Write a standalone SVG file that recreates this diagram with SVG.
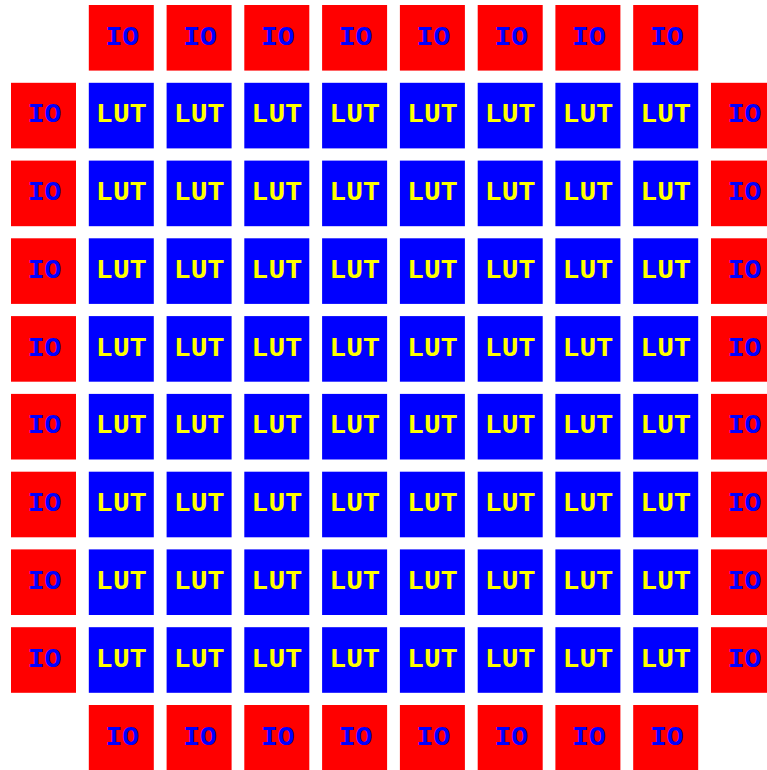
<svg xmlns="http://www.w3.org/2000/svg" width="767" height="770" viewBox="0 0 767 770">
<style>
.io rect{fill:#ff0000}
.lut rect{fill:#0000ff}
rect{width:65px;height:65.6px}
text{font-family:"Courier New",Courier,"Nimbus Mono PS","FreeMono","Liberation Mono",monospace;font-weight:bold;font-size:28px;text-anchor:middle}
.io text{fill:#0000ff}
.lut text{fill:#ffff00}
</style>
<rect x="0" y="0" width="767" height="770" fill="#ffffff" style="width:767px;height:770px"/>
<g id="io-top">
<g id="io_t1" class="io" transform="translate(88.8,5)"><rect/><text x="33.5" y="39.5">IO</text></g>
<g id="io_t2" class="io" transform="translate(166.6,5)"><rect/><text x="33.5" y="39.5">IO</text></g>
<g id="io_t3" class="io" transform="translate(244.3,5)"><rect/><text x="33.5" y="39.5">IO</text></g>
<g id="io_t4" class="io" transform="translate(322.1,5)"><rect/><text x="33.5" y="39.5">IO</text></g>
<g id="io_t5" class="io" transform="translate(399.9,5)"><rect/><text x="33.5" y="39.5">IO</text></g>
<g id="io_t6" class="io" transform="translate(477.7,5)"><rect/><text x="33.5" y="39.5">IO</text></g>
<g id="io_t7" class="io" transform="translate(555.4,5)"><rect/><text x="33.5" y="39.5">IO</text></g>
<g id="io_t8" class="io" transform="translate(633.2,5)"><rect/><text x="33.5" y="39.5">IO</text></g>
</g>
<g id="io-bottom">
<g id="io_b1" class="io" transform="translate(88.8,705)"><rect/><text x="33.5" y="39.5">IO</text></g>
<g id="io_b2" class="io" transform="translate(166.6,705)"><rect/><text x="33.5" y="39.5">IO</text></g>
<g id="io_b3" class="io" transform="translate(244.3,705)"><rect/><text x="33.5" y="39.5">IO</text></g>
<g id="io_b4" class="io" transform="translate(322.1,705)"><rect/><text x="33.5" y="39.5">IO</text></g>
<g id="io_b5" class="io" transform="translate(399.9,705)"><rect/><text x="33.5" y="39.5">IO</text></g>
<g id="io_b6" class="io" transform="translate(477.7,705)"><rect/><text x="33.5" y="39.5">IO</text></g>
<g id="io_b7" class="io" transform="translate(555.4,705)"><rect/><text x="33.5" y="39.5">IO</text></g>
<g id="io_b8" class="io" transform="translate(633.2,705)"><rect/><text x="33.5" y="39.5">IO</text></g>
</g>
<g id="io-left">
<g id="io_l1" class="io" transform="translate(11,82.8)"><rect/><text x="33.5" y="39.5">IO</text></g>
<g id="io_l2" class="io" transform="translate(11,160.6)"><rect/><text x="33.5" y="39.5">IO</text></g>
<g id="io_l3" class="io" transform="translate(11,238.3)"><rect/><text x="33.5" y="39.5">IO</text></g>
<g id="io_l4" class="io" transform="translate(11,316.1)"><rect/><text x="33.5" y="39.5">IO</text></g>
<g id="io_l5" class="io" transform="translate(11,393.9)"><rect/><text x="33.5" y="39.5">IO</text></g>
<g id="io_l6" class="io" transform="translate(11,471.7)"><rect/><text x="33.5" y="39.5">IO</text></g>
<g id="io_l7" class="io" transform="translate(11,549.4)"><rect/><text x="33.5" y="39.5">IO</text></g>
<g id="io_l8" class="io" transform="translate(11,627.2)"><rect/><text x="33.5" y="39.5">IO</text></g>
</g>
<g id="io-right">
<g id="io_r1" class="io" transform="translate(711,82.8)"><rect/><text x="33.5" y="39.5">IO</text></g>
<g id="io_r2" class="io" transform="translate(711,160.6)"><rect/><text x="33.5" y="39.5">IO</text></g>
<g id="io_r3" class="io" transform="translate(711,238.3)"><rect/><text x="33.5" y="39.5">IO</text></g>
<g id="io_r4" class="io" transform="translate(711,316.1)"><rect/><text x="33.5" y="39.5">IO</text></g>
<g id="io_r5" class="io" transform="translate(711,393.9)"><rect/><text x="33.5" y="39.5">IO</text></g>
<g id="io_r6" class="io" transform="translate(711,471.7)"><rect/><text x="33.5" y="39.5">IO</text></g>
<g id="io_r7" class="io" transform="translate(711,549.4)"><rect/><text x="33.5" y="39.5">IO</text></g>
<g id="io_r8" class="io" transform="translate(711,627.2)"><rect/><text x="33.5" y="39.5">IO</text></g>
</g>
<g id="luts">
<g id="lut_1_1" class="lut" transform="translate(88.8,82.8)"><rect/><text x="32.5" y="39.5">LUT</text></g>
<g id="lut_1_2" class="lut" transform="translate(166.6,82.8)"><rect/><text x="32.5" y="39.5">LUT</text></g>
<g id="lut_1_3" class="lut" transform="translate(244.3,82.8)"><rect/><text x="32.5" y="39.5">LUT</text></g>
<g id="lut_1_4" class="lut" transform="translate(322.1,82.8)"><rect/><text x="32.5" y="39.5">LUT</text></g>
<g id="lut_1_5" class="lut" transform="translate(399.9,82.8)"><rect/><text x="32.5" y="39.5">LUT</text></g>
<g id="lut_1_6" class="lut" transform="translate(477.7,82.8)"><rect/><text x="32.5" y="39.5">LUT</text></g>
<g id="lut_1_7" class="lut" transform="translate(555.4,82.8)"><rect/><text x="32.5" y="39.5">LUT</text></g>
<g id="lut_1_8" class="lut" transform="translate(633.2,82.8)"><rect/><text x="32.5" y="39.5">LUT</text></g>
<g id="lut_2_1" class="lut" transform="translate(88.8,160.6)"><rect/><text x="32.5" y="39.5">LUT</text></g>
<g id="lut_2_2" class="lut" transform="translate(166.6,160.6)"><rect/><text x="32.5" y="39.5">LUT</text></g>
<g id="lut_2_3" class="lut" transform="translate(244.3,160.6)"><rect/><text x="32.5" y="39.5">LUT</text></g>
<g id="lut_2_4" class="lut" transform="translate(322.1,160.6)"><rect/><text x="32.5" y="39.5">LUT</text></g>
<g id="lut_2_5" class="lut" transform="translate(399.9,160.6)"><rect/><text x="32.5" y="39.5">LUT</text></g>
<g id="lut_2_6" class="lut" transform="translate(477.7,160.6)"><rect/><text x="32.5" y="39.5">LUT</text></g>
<g id="lut_2_7" class="lut" transform="translate(555.4,160.6)"><rect/><text x="32.5" y="39.5">LUT</text></g>
<g id="lut_2_8" class="lut" transform="translate(633.2,160.6)"><rect/><text x="32.5" y="39.5">LUT</text></g>
<g id="lut_3_1" class="lut" transform="translate(88.8,238.3)"><rect/><text x="32.5" y="39.5">LUT</text></g>
<g id="lut_3_2" class="lut" transform="translate(166.6,238.3)"><rect/><text x="32.5" y="39.5">LUT</text></g>
<g id="lut_3_3" class="lut" transform="translate(244.3,238.3)"><rect/><text x="32.5" y="39.5">LUT</text></g>
<g id="lut_3_4" class="lut" transform="translate(322.1,238.3)"><rect/><text x="32.5" y="39.5">LUT</text></g>
<g id="lut_3_5" class="lut" transform="translate(399.9,238.3)"><rect/><text x="32.5" y="39.5">LUT</text></g>
<g id="lut_3_6" class="lut" transform="translate(477.7,238.3)"><rect/><text x="32.5" y="39.5">LUT</text></g>
<g id="lut_3_7" class="lut" transform="translate(555.4,238.3)"><rect/><text x="32.5" y="39.5">LUT</text></g>
<g id="lut_3_8" class="lut" transform="translate(633.2,238.3)"><rect/><text x="32.5" y="39.5">LUT</text></g>
<g id="lut_4_1" class="lut" transform="translate(88.8,316.1)"><rect/><text x="32.5" y="39.5">LUT</text></g>
<g id="lut_4_2" class="lut" transform="translate(166.6,316.1)"><rect/><text x="32.5" y="39.5">LUT</text></g>
<g id="lut_4_3" class="lut" transform="translate(244.3,316.1)"><rect/><text x="32.5" y="39.5">LUT</text></g>
<g id="lut_4_4" class="lut" transform="translate(322.1,316.1)"><rect/><text x="32.5" y="39.5">LUT</text></g>
<g id="lut_4_5" class="lut" transform="translate(399.9,316.1)"><rect/><text x="32.5" y="39.5">LUT</text></g>
<g id="lut_4_6" class="lut" transform="translate(477.7,316.1)"><rect/><text x="32.5" y="39.5">LUT</text></g>
<g id="lut_4_7" class="lut" transform="translate(555.4,316.1)"><rect/><text x="32.5" y="39.5">LUT</text></g>
<g id="lut_4_8" class="lut" transform="translate(633.2,316.1)"><rect/><text x="32.5" y="39.5">LUT</text></g>
<g id="lut_5_1" class="lut" transform="translate(88.8,393.9)"><rect/><text x="32.5" y="39.5">LUT</text></g>
<g id="lut_5_2" class="lut" transform="translate(166.6,393.9)"><rect/><text x="32.5" y="39.5">LUT</text></g>
<g id="lut_5_3" class="lut" transform="translate(244.3,393.9)"><rect/><text x="32.5" y="39.5">LUT</text></g>
<g id="lut_5_4" class="lut" transform="translate(322.1,393.9)"><rect/><text x="32.5" y="39.5">LUT</text></g>
<g id="lut_5_5" class="lut" transform="translate(399.9,393.9)"><rect/><text x="32.5" y="39.5">LUT</text></g>
<g id="lut_5_6" class="lut" transform="translate(477.7,393.9)"><rect/><text x="32.5" y="39.5">LUT</text></g>
<g id="lut_5_7" class="lut" transform="translate(555.4,393.9)"><rect/><text x="32.5" y="39.5">LUT</text></g>
<g id="lut_5_8" class="lut" transform="translate(633.2,393.9)"><rect/><text x="32.5" y="39.5">LUT</text></g>
<g id="lut_6_1" class="lut" transform="translate(88.8,471.7)"><rect/><text x="32.5" y="39.5">LUT</text></g>
<g id="lut_6_2" class="lut" transform="translate(166.6,471.7)"><rect/><text x="32.5" y="39.5">LUT</text></g>
<g id="lut_6_3" class="lut" transform="translate(244.3,471.7)"><rect/><text x="32.5" y="39.5">LUT</text></g>
<g id="lut_6_4" class="lut" transform="translate(322.1,471.7)"><rect/><text x="32.5" y="39.5">LUT</text></g>
<g id="lut_6_5" class="lut" transform="translate(399.9,471.7)"><rect/><text x="32.5" y="39.5">LUT</text></g>
<g id="lut_6_6" class="lut" transform="translate(477.7,471.7)"><rect/><text x="32.5" y="39.5">LUT</text></g>
<g id="lut_6_7" class="lut" transform="translate(555.4,471.7)"><rect/><text x="32.5" y="39.5">LUT</text></g>
<g id="lut_6_8" class="lut" transform="translate(633.2,471.7)"><rect/><text x="32.5" y="39.5">LUT</text></g>
<g id="lut_7_1" class="lut" transform="translate(88.8,549.4)"><rect/><text x="32.5" y="39.5">LUT</text></g>
<g id="lut_7_2" class="lut" transform="translate(166.6,549.4)"><rect/><text x="32.5" y="39.5">LUT</text></g>
<g id="lut_7_3" class="lut" transform="translate(244.3,549.4)"><rect/><text x="32.5" y="39.5">LUT</text></g>
<g id="lut_7_4" class="lut" transform="translate(322.1,549.4)"><rect/><text x="32.5" y="39.5">LUT</text></g>
<g id="lut_7_5" class="lut" transform="translate(399.9,549.4)"><rect/><text x="32.5" y="39.5">LUT</text></g>
<g id="lut_7_6" class="lut" transform="translate(477.7,549.4)"><rect/><text x="32.5" y="39.5">LUT</text></g>
<g id="lut_7_7" class="lut" transform="translate(555.4,549.4)"><rect/><text x="32.5" y="39.5">LUT</text></g>
<g id="lut_7_8" class="lut" transform="translate(633.2,549.4)"><rect/><text x="32.5" y="39.5">LUT</text></g>
<g id="lut_8_1" class="lut" transform="translate(88.8,627.2)"><rect/><text x="32.5" y="39.5">LUT</text></g>
<g id="lut_8_2" class="lut" transform="translate(166.6,627.2)"><rect/><text x="32.5" y="39.5">LUT</text></g>
<g id="lut_8_3" class="lut" transform="translate(244.3,627.2)"><rect/><text x="32.5" y="39.5">LUT</text></g>
<g id="lut_8_4" class="lut" transform="translate(322.1,627.2)"><rect/><text x="32.5" y="39.5">LUT</text></g>
<g id="lut_8_5" class="lut" transform="translate(399.9,627.2)"><rect/><text x="32.5" y="39.5">LUT</text></g>
<g id="lut_8_6" class="lut" transform="translate(477.7,627.2)"><rect/><text x="32.5" y="39.5">LUT</text></g>
<g id="lut_8_7" class="lut" transform="translate(555.4,627.2)"><rect/><text x="32.5" y="39.5">LUT</text></g>
<g id="lut_8_8" class="lut" transform="translate(633.2,627.2)"><rect/><text x="32.5" y="39.5">LUT</text></g>
</g>
<g id="connectors"/>
</svg>
